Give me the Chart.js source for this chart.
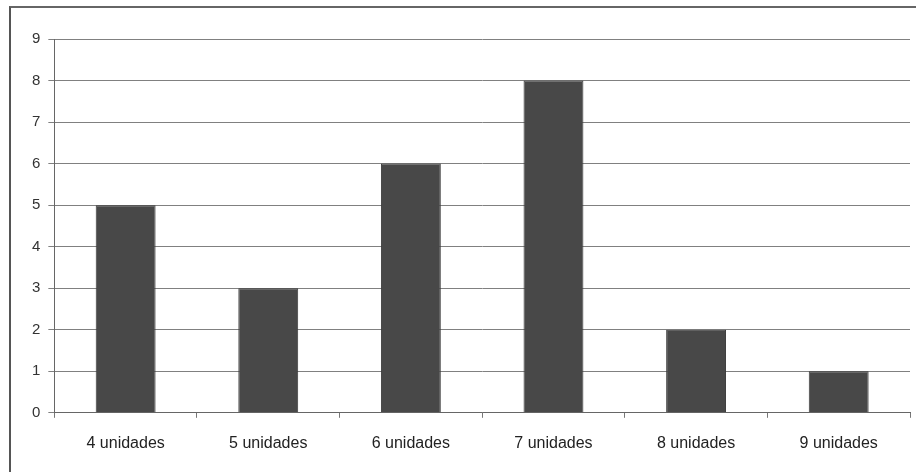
<!DOCTYPE html>
<html>
<head>
<meta charset="utf-8">
<script src="https://cdn.jsdelivr.net/npm/chart.js@4"></script>
<style>
  html, body { margin: 0; padding: 0; background: #fff; }
  #wrap { position: relative; width: 916px; height: 472px; overflow: hidden; }
  #frame { position: absolute; left: 9px; top: 6px; width: 920px; height: 480px; border-left: 2px solid #555; border-top: 2px solid #666; }
  canvas { position: absolute; left: 0; top: 0; }
</style>
</head>
<body>
<div id="wrap">
  <div id="frame"></div>
  <canvas id="chart" width="916" height="472"></canvas>
</div>
<script>
// --- Data ---
const categories = ['4 unidades', '5 unidades', '6 unidades', '7 unidades', '8 unidades', '9 unidades'];
const values = [5, 3, 6, 8, 2, 1];
const yTicks = [0, 1, 2, 3, 4, 5, 6, 7, 8, 9];

const ctx = document.getElementById('chart');

new Chart(ctx, {
    type: 'bar',
    data: {
        labels: categories,
        datasets: [{
            data: values,
            backgroundColor: '#484848',
            borderColor: '#3a3a3a',
            borderWidth: 1,
            categoryPercentage: 1,
            barPercentage: 0.42
        }]
    },
    options: {
        responsive: false,
        animation: false,
        plugins: { legend: { display: false }, tooltip: { enabled: false } },
        layout: { padding: { left: 24, top: 39, right: 6, bottom: 3 } },
        scales: {
            y: {
                min: yTicks[0],
                max: yTicks[yTicks.length - 1],
                ticks: { stepSize: 1, color: '#333', padding: 8, font: { family: 'Liberation Sans, Arial', size: 15 } },
                grid: { color: '#808080', tickLength: 6, lineWidth: 1 },
                border: { color: '#666' }
            },
            x: {
                ticks: { color: '#222', padding: 16, font: { family: 'Liberation Sans, Arial', size: 16 } },
                grid: { drawOnChartArea: false, color: '#777', tickLength: 5 },
                border: { color: '#666' }
            }
        }
    }
});
</script>
</body>
</html>
